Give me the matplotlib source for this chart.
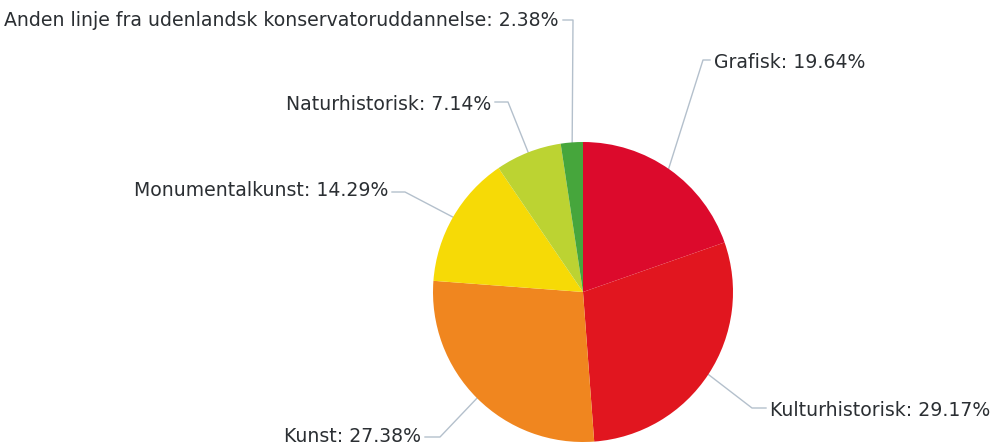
import numpy as np
import matplotlib.pyplot as plt

# data
labels = ['Grafisk', 'Kulturhistorisk', 'Kunst', 'Monumentalkunst',
          'Naturhistorisk', 'Anden linje fra udenlandsk konservatoruddannelse']
values = [19.64, 29.17, 27.38, 14.29, 7.14, 2.38]
colors = ['#dc0a2c', '#e1161f', '#f0861f', '#f6da06', '#bcd332', '#46a63c']

# label layout (pixel coords, y up): text anchor, alignment, elbow point
text_pos = [(714, 382, 'left'), (770, 35, 'left'), (421, 8, 'right'),
            (388, 254, 'right'), (491, 341, 'right'), (559, 425, 'right')]
elbows = [(703, 385), (752, 37), (440, 8), (405, 253), (508, 343), (573, 425)]

fig = plt.figure(figsize=(9.95, 4.45), dpi=100)
ax = fig.add_axes([0, 0, 1, 1])

cx, cy, r = 583, 153, 150
wedges, _ = ax.pie(values, colors=colors, startangle=90, counterclock=False,
                   center=(cx, cy), radius=r, frame=True,
                   wedgeprops=dict(linewidth=0))
ax.set_xlim(0, 995)
ax.set_ylim(0, 445)
ax.set_aspect('equal')
ax.axis('off')

for w, lab, v, (tx, ty, ha), (ex, ey) in zip(wedges, labels, values, text_pos, elbows):
    mid = np.deg2rad((w.theta1 + w.theta2) / 2)
    px = cx + r * 0.97 * np.cos(mid)
    py = cy + r * 0.97 * np.sin(mid)
    tx_line = tx - 4 if ha == 'left' else tx + 4
    ax.plot([px, ex, tx_line], [py, ey, ey], color='#b4c0cc', lw=1, zorder=0.5)
    ax.text(tx, ty, f'{lab}: {v:.2f}%', ha=ha, va='center', fontsize=13.6,
            color='#2b2f33', family='DejaVu Sans', fontweight='medium')

fig.savefig('out.png', dpi=100)
